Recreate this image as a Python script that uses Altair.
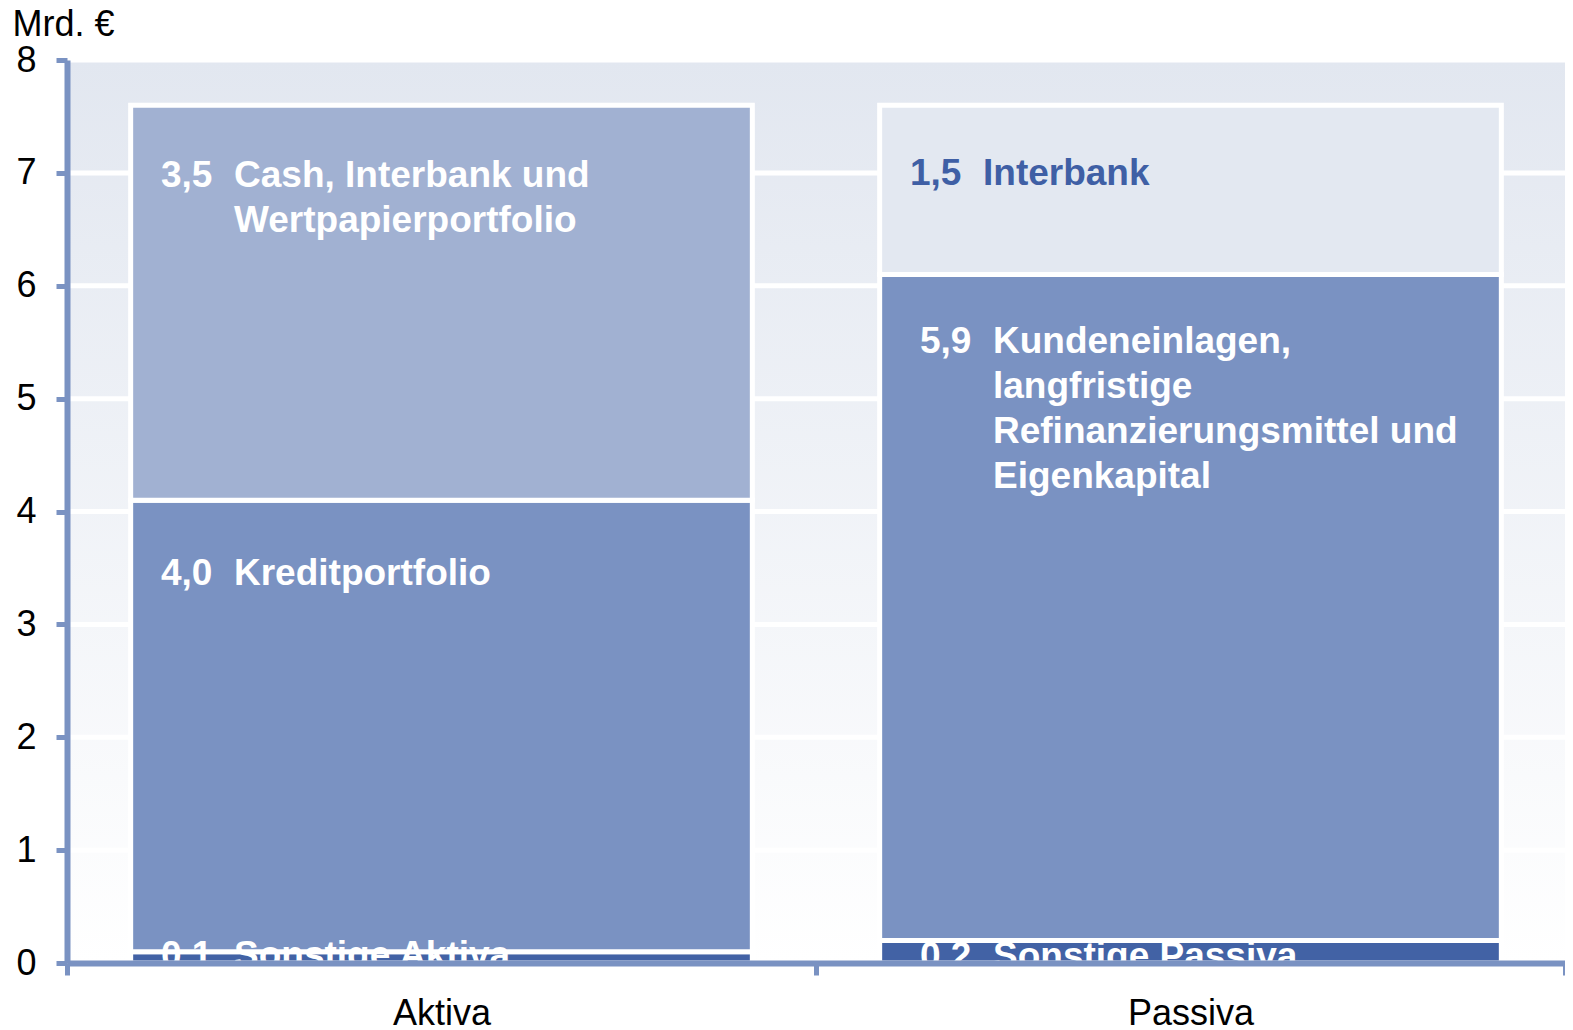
import altair as alt
import pandas as pd

# ---------------- data ----------------
categories = ["Aktiva", "Passiva"]
sides = ["Aktiva", "Aktiva", "Aktiva", "Passiva", "Passiva", "Passiva"]
segments = [
    "Sonstige Aktiva",
    "Kreditportfolio",
    "Cash, Interbank und Wertpapierportfolio",
    "Sonstige Passiva",
    "Kundeneinlagen, langfristige Refinanzierungsmittel und Eigenkapital",
    "Interbank",
]
values = [0.1, 4.0, 3.5, 0.2, 5.9, 1.5]
label_lines = [
    ["Sonstige Aktiva"],
    ["Kreditportfolio"],
    ["Cash, Interbank und", "Wertpapierportfolio"],
    ["Sonstige Passiva"],
    ["Kundeneinlagen,", "langfristige", "Refinanzierungsmittel und", "Eigenkapital"],
    ["Interbank"],
]
y_ticks = [0, 1, 2, 3, 4, 5, 6, 7, 8]
unit_label = "Mrd. €"

# ---------------- styles ----------------
bar_colors = ["#4262A5", "#7A92C2", "#A1B1D2", "#4262A5", "#7A92C2", "#E3E8F1"]
axis_color = "#7A92C2"
dark_text = "#3F5FA5"
FONT = "Liberation Sans"
W, H = 1498, 903

starts, ends = [], []
cum = {}
for s, v in zip(sides, values):
    a = cum.get(s, 0.0)
    starts.append(round(a, 3))
    ends.append(round(a + v, 3))
    cum[s] = a + v

df = pd.DataFrame({
    "side": sides,
    "segment": segments,
    "value": values,
    "start": starts,
    "end": ends,
    "num": [f"{v:.1f}".replace(".", ",") for v in values],
    "lines": label_lines,
})

xscale = alt.Scale(domain=categories, paddingInner=0, paddingOuter=0)
yscale = alt.Scale(domain=[0, 8], nice=False)

axis_common = dict(domainColor=axis_color, domainWidth=6, tickColor=axis_color,
                   tickWidth=5, grid=False, labelFont=FONT, labelFontSize=36,
                   labelColor="black", zindex=1)


def X():
    return alt.X("side:N", scale=xscale, title=None,
                 axis=alt.Axis(labelAngle=0, tickBand="extent", tickSize=12,
                               labelPadding=21, **axis_common))


def Y(field):
    return alt.Y(field, scale=yscale, title=unit_label,
                 axis=alt.Axis(values=y_ticks, tickSize=11, labelPadding=20,
                               titleAngle=0, titleAlign="left",
                               titleBaseline="alphabetic", titleX=-55, titleY=-25,
                               titleFont=FONT, titleFontSize=36,
                               titleFontWeight="normal", titleColor="black",
                               **axis_common))


# background gradient
bg = alt.Chart(pd.DataFrame({"lo": [y_ticks[0]], "hi": [y_ticks[-1]]})).mark_rect(
    color=alt.LinearGradient(
        gradient="linear",
        stops=[alt.GradientStop(offset=0, color="#E2E7F0"),
               alt.GradientStop(offset=1, color="#FFFFFF")],
        x1=0, x2=0, y1=0, y2=1,
    )
).encode(x=alt.value(0), x2=alt.value(W), y=Y("hi:Q"), y2="lo:Q")

grid = alt.Chart(pd.DataFrame({"v": y_ticks[1:]})).mark_rule(
    color="white", strokeWidth=5
).encode(y=Y("v:Q"))

bars = alt.Chart(df).mark_bar(
    stroke="white", strokeWidth=5, width=alt.RelativeBandSize(0.83)
).encode(
    x=X(),
    y=Y("start:Q"),
    y2="end:Q",
    color=alt.Color("segment:N", scale=alt.Scale(domain=segments, range=bar_colors), legend=None),
)


def label_layers(segs, anchor, dx_text, dy, color):
    base = alt.Chart(df).transform_filter(
        alt.FieldOneOfPredicate(field="segment", oneOf=segs)
    )
    common = dict(align="left", baseline="alphabetic", font=FONT, fontWeight="bold",
                  fontSize=37, lineHeight=45, color=color, dy=dy)
    num = base.mark_text(dx=dx_text - 73, **common).encode(
        x=X(), y=Y(f"{anchor}:Q"), text="num:N")
    txt = base.mark_text(dx=dx_text, **common).encode(
        x=X(), y=Y(f"{anchor}:Q"), text="lines")
    return [num, txt]


texts = []
texts += label_layers([segments[2]], "end", -207.5, 82, "white")
texts += label_layers([segments[1]], "end", -207.5, 85, "white")
texts += label_layers([segments[0]], "start", -207.5, 4, "white")
texts += label_layers([segments[5]], "end", -207.5, 80, dark_text)
texts += label_layers([segments[4]], "end", -197.5, 79, "white")
texts += label_layers([segments[3]], "start", -197.5, 5, "white")

chart = alt.layer(bg, grid, bars, *texts).properties(
    width=W, height=H,
    autosize=alt.AutoSizeParams(type="none"),
    padding={"left": 59, "top": 52, "right": 0, "bottom": 66},
).configure_view(stroke=None)

chart.save("out.html", embed_options={"renderer": "svg", "actions": False})
